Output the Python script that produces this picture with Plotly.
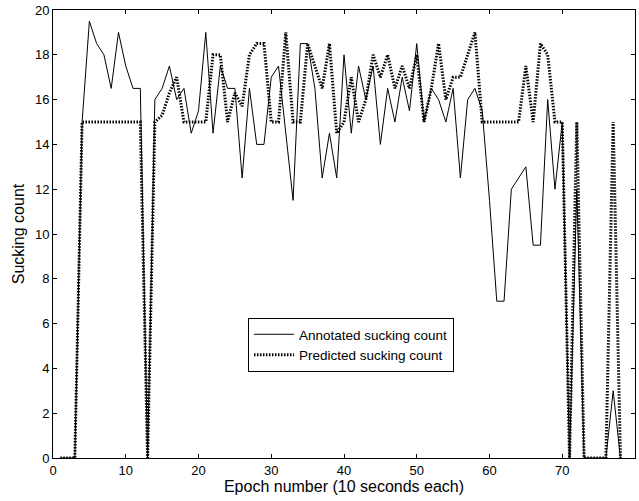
import plotly.graph_objects as go

epochs = list(range(1, 79))

annotated = [0, 0, 0, 15, 19.5, 18.5, 18, 16.5, 19, 17.5,
             16.5, 16.5, 0, 16, 16.5, 17.5, 16, 16.5, 14.5, 15.5,
             19, 14.5, 17.5, 16.5, 16.5, 12.5, 16.5, 14, 14, 17,
             17.5, 14.5, 11.5, 18.5, 18.5, 16.5, 12.5, 14.5, 12.5, 18,
             14.5, 17.5, 16, 17.5, 14, 16.5, 15, 17, 15.5, 18.5,
             15, 16.5, 16, 15, 16.5, 12.5, 16, 16.5, 15.5, 11.5,
             7, 7, 12, 12.5, 13, 9.5, 9.5, 16, 12, 15,
             0, 12, 0, 0, 0, 0, 3, 0]

predicted = [0, 0, 0, 15, 15, 15, 15, 15, 15, 15,
             15, 15, 0, 15, 15.3, 16.3, 17, 15, 15, 15,
             15, 18, 18, 15, 16.3, 15.7, 18, 18.5, 18.5, 15,
             15, 19, 15, 15, 18.5, 17.5, 16.5, 18.5, 14.5, 15,
             17, 15, 16, 18, 17, 18, 16.5, 17.5, 16.5, 18,
             15, 16.5, 18.5, 16, 17, 17, 18, 19, 15, 15,
             15, 15, 15, 15, 17.5, 15, 18.5, 18, 15, 15,
             0, 15, 0, 0, 0, 0, 15, 0]

x_ticks = [0, 10, 20, 30, 40, 50, 60, 70, 80]
y_ticks = [0, 2, 4, 6, 8, 10, 12, 14, 16, 18, 20]

FONT = "Liberation Sans, Arial, sans-serif"

fig = go.Figure()
fig.add_trace(go.Scatter(x=epochs, y=annotated, mode="lines",
                         name="Annotated sucking count",
                         line=dict(color="black", width=1)))
fig.add_trace(go.Scatter(x=epochs, y=predicted, mode="lines",
                         name="Predicted sucking count",
                         line=dict(color="black", width=3, dash="1.5px,1.5px")))

axis_common = dict(showgrid=False, zeroline=False, showline=True,
                   linecolor="black", linewidth=1, mirror="ticks",
                   ticks="inside", ticklen=4, tickcolor="black",
                   tickfont=dict(family=FONT, size=13, color="black"))

fig.update_xaxes(range=[0, 80], tickvals=x_ticks,
                 title=dict(text="Epoch number (10 seconds each)",
                            font=dict(family=FONT, size=16, color="black"),
                            standoff=4),
                 **axis_common)
fig.update_yaxes(range=[0, 20], tickvals=y_ticks,
                 title=dict(text="Sucking count",
                            font=dict(family=FONT, size=16, color="black"),
                            standoff=6),
                 **axis_common)

fig.update_layout(
    width=639, height=501,
    margin=dict(l=53, r=4, t=10, b=43),
    paper_bgcolor="white", plot_bgcolor="white",
    font=dict(family=FONT, color="black"),
    legend=dict(x=0.335, y=0.3125, xanchor="left", yanchor="top",
                bgcolor="white", bordercolor="black", borderwidth=1,
                font=dict(family=FONT, size=13.5, color="black"),
                tracegroupgap=0, itemwidth=40),
)

fig.write_html("out.html")
